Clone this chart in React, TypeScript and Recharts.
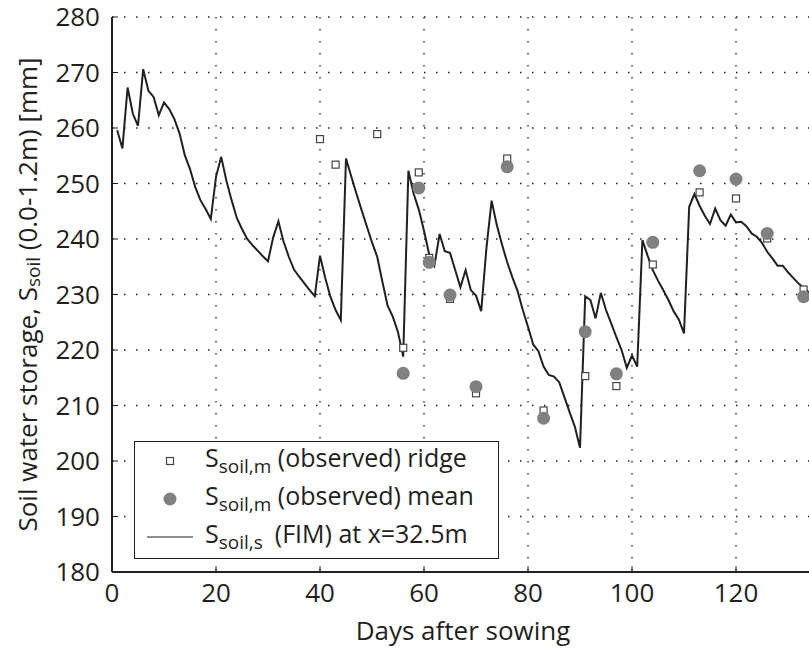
import {
  ComposedChart,
  Line,
  Scatter,
  XAxis,
  YAxis,
  CartesianGrid,
} from "recharts";

// simulated storage, one value per day starting at day 1
const firstDay = 1;
const simulated = [
  259.6, 256.3, 267.3, 262.6, 260.4, 270.6, 266.7, 265.6, 262.3, 264.6,
  263.4, 261.6, 259.0, 255.1, 252.6, 249.4, 247.0, 245.4, 243.6, 251.2,
  254.8, 250.5, 247.0, 243.8, 241.8, 240.0, 238.9, 237.9, 236.9, 236.0,
  240.3, 243.2, 239.5, 236.8, 234.5, 233.2, 232.0, 230.8, 229.7, 237.0,
  233.0, 229.6, 227.2, 225.4, 254.5, 251.3, 248.2, 245.2, 242.3, 239.4,
  236.8, 232.3, 228.0, 226.0, 223.2, 218.8, 252.3, 248.2, 245.3, 241.5,
  237.2, 235.2, 240.9, 237.8, 237.5, 234.4, 231.3, 234.4, 230.8, 229.8,
  227.0, 238.3, 246.9, 242.5, 239.0, 235.8, 233.1, 230.6, 227.2, 224.2,
  221.0, 219.8, 217.0, 215.5, 215.2, 214.2, 211.5, 208.8, 206.2, 202.4,
  229.7, 229.0, 225.7, 230.3, 227.2, 224.8, 222.3, 220.0, 216.8, 219.0,
  217.0, 239.8, 237.0, 234.4, 232.5, 230.8, 229.0, 227.0, 225.5, 223.0,
  245.8, 248.1, 246.0, 244.2, 242.7, 245.5, 243.4, 242.4, 244.4, 243.0,
  243.1, 242.3, 241.0, 240.4, 239.3, 237.7, 236.5, 235.2, 235.2, 234.0,
  233.0, 232.0, 231.2, 230.4, 229.6,
];

const ridgeDays = [40, 43, 51, 56, 59, 61, 65, 70, 76, 83, 91, 97, 104, 113, 120, 126, 133];
const ridgeValues = [
  258.0, 253.4, 258.9, 220.4, 252.0, 236.6, 229.2, 212.2, 254.5, 209.1,
  215.3, 213.5, 235.4, 248.4, 247.3, 240.1, 230.9,
];

const meanDays = [56, 59, 61, 65, 70, 76, 83, 91, 97, 104, 113, 120, 126, 133];
const meanValues = [
  215.8, 249.2, 235.8, 229.9, 213.4, 253.0, 207.7, 223.3, 215.7, 239.4,
  252.3, 250.8, 241.0, 229.6,
];

const xTicks = [0, 20, 40, 60, 80, 100, 120];
const yTicks = [180, 190, 200, 210, 220, 230, 240, 250, 260, 270, 280];

const simData = simulated.map((v, i) => ({ day: firstDay + i, v }));
const ridgeData = ridgeDays.map((d, i) => ({ day: d, v: ridgeValues[i] }));
const meanData = meanDays.map((d, i) => ({ day: d, v: meanValues[i] }));

const font = "'Open Sans', 'Noto Sans', sans-serif";
const ink = "#231f20";
const markerGray = "#808080";

const SquareMark = (props: any) => {
  const { cx, cy } = props;
  return (
    <rect x={cx - 3.5} y={cy - 3.5} width={7} height={7} fill="#fff" stroke="#444" strokeWidth={1.2} />
  );
};

const DotMark = (props: any) => {
  const { cx, cy } = props;
  return <circle cx={cx} cy={cy} r={6.5} fill={markerGray} />;
};

const YLabel = (props: any) => {
  const { viewBox } = props;
  const cx = viewBox.x + 27;
  const cy = viewBox.y + viewBox.height / 2;
  return (
    <text
      x={cx}
      y={cy}
      transform={`rotate(-90 ${cx} ${cy})`}
      textAnchor="middle"
      dominantBaseline="central"
      fontFamily={font}
      fontSize={26}
      fill={ink}
    >
      <tspan>Soil water storage, S</tspan>
      <tspan fontSize={19} dy={6}>soil</tspan>
      <tspan dy={-6}> (0.0-1.2m) [mm]</tspan>
    </text>
  );
};

const sub = { fontSize: 19, verticalAlign: "-6px" } as const;

function LegendBox() {
  const row = { display: "flex", alignItems: "center", height: 38 } as const;
  const icon = { width: 70, display: "flex", justifyContent: "center" } as const;
  return (
    <div
      style={{
        position: "absolute",
        left: 134,
        top: 441,
        border: `1px solid ${ink}`,
        background: "#fff",
        width: 365,
        height: 118,
        boxSizing: "border-box",
        paddingTop: 0,
        fontFamily: font,
        fontSize: 25,
        color: ink,
        lineHeight: "28px",
        whiteSpace: "nowrap",
      }}
    >
      <div style={row}>
        <div style={icon}>
          <svg width={10} height={10}>
            <rect x={1.5} y={1.5} width={7} height={7} fill="#fff" stroke="#444" strokeWidth={1.2} />
          </svg>
        </div>
        <span>
          S<span style={sub}>soil,m</span> (observed) ridge
        </span>
      </div>
      <div style={row}>
        <div style={icon}>
          <svg width={14} height={14}>
            <circle cx={7} cy={7} r={6.5} fill={markerGray} />
          </svg>
        </div>
        <span>
          S<span style={sub}>soil,m</span> (observed) mean
        </span>
      </div>
      <div style={row}>
        <div style={icon}>
          <svg width={46} height={4}>
            <line x1={0} y1={2} x2={46} y2={2} stroke={ink} strokeWidth={1.2} />
          </svg>
        </div>
        <span>
          S<span style={sub}>soil,s</span>
          <span style={{ marginLeft: 12 }}>(FIM) at x=32.5m</span>
        </span>
      </div>
    </div>
  );
}

export default function App() {
  return (
    <div
      style={{
        position: "absolute",
        left: 0,
        top: 0,
        width: 809,
        height: 650,
        overflow: "hidden",
        background: "#fff",
      }}
    >
      <ComposedChart width={830} height={650} margin={{ top: 17, right: 16, left: 0, bottom: 0 }}>
        <CartesianGrid stroke={ink} strokeWidth={1.3} strokeDasharray="1.5 10.5" />
        <XAxis
          xAxisId="top"
          orientation="top"
          type="number"
          dataKey="day"
          domain={[0, 135]}
          ticks={xTicks}
          height={0}
          tick={false}
          tickSize={-6}
          axisLine={{ stroke: ink, strokeWidth: 2 }}
          tickLine={{ stroke: ink, strokeWidth: 1 }}
        />
        <XAxis
          type="number"
          dataKey="day"
          domain={[0, 135]}
          ticks={xTicks}
          allowDataOverflow
          height={78}
          tickSize={-6}
          tickMargin={18}
          tick={{ fontSize: 26, fill: ink, fontFamily: font }}
          axisLine={{ stroke: ink, strokeWidth: 2 }}
          tickLine={{ stroke: ink, strokeWidth: 1 }}
          label={{
            value: "Days after sowing",
            position: "insideBottom",
            offset: 10,
            fontSize: 26,
            fill: ink,
            fontFamily: font,
          }}
        />
        <YAxis
          type="number"
          domain={[180, 280]}
          ticks={yTicks}
          width={112}
          tickSize={-6}
          tickMargin={18}
          tick={{ fontSize: 26, fill: ink, fontFamily: font }}
          axisLine={{ stroke: ink, strokeWidth: 2 }}
          tickLine={{ stroke: ink, strokeWidth: 1 }}
          label={<YLabel />}
        />
        <Line
          data={simData}
          dataKey="v"
          type="linear"
          stroke={ink}
          strokeWidth={2}
          dot={false}
          activeDot={false}
          isAnimationActive={false}
        />
        <Scatter data={ridgeData} dataKey="v" shape={SquareMark} isAnimationActive={false} />
        <Scatter data={meanData} dataKey="v" shape={DotMark} isAnimationActive={false} />
      </ComposedChart>
      <LegendBox />
    </div>
  );
}
